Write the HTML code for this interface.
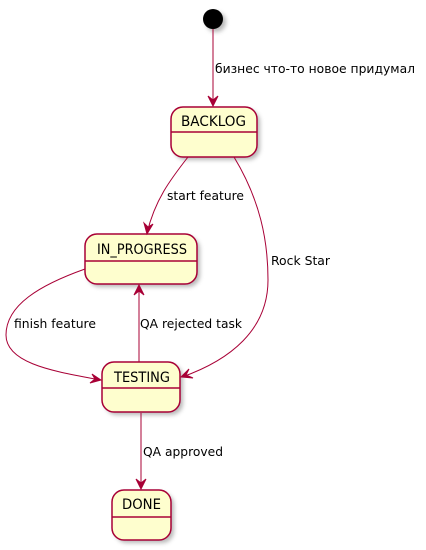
<!DOCTYPE html>
<html><head><meta charset="utf-8"><style>
html,body{margin:0;padding:0;background:#fff;}
svg{display:block;}
text{font-family:"DejaVu Sans","Liberation Sans",sans-serif;fill:#000;}
.lbl{font-size:12.5px;}
.st{font-size:14.5px;}
.box{fill:#FEFECE;stroke:#A80036;stroke-width:1.5;}
.sh{fill:#888;opacity:0.6;}
.e{fill:none;stroke:#A80036;stroke-width:1;}
.a{fill:#A80036;stroke:#A80036;stroke-width:1;}
</style></head><body>
<svg width="426" height="550" viewBox="0 0 426 550" xmlns="http://www.w3.org/2000/svg">
<defs><filter id="f" x="-20%" y="-20%" width="150%" height="150%"><feGaussianBlur stdDeviation="2"/></filter></defs>
<circle cx="216" cy="22" r="10" class="sh" filter="url(#f)"/>
<circle cx="213" cy="19" r="10" fill="#000"/>
<rect x="174" y="110" width="86" height="50" rx="12" class="sh" filter="url(#f)"/>
<rect x="88" y="237" width="112" height="50" rx="12" class="sh" filter="url(#f)"/>
<rect x="105" y="365" width="78" height="50" rx="12" class="sh" filter="url(#f)"/>
<rect x="115" y="493" width="59" height="50" rx="12" class="sh" filter="url(#f)"/>
<rect x="171" y="107" width="86" height="50" rx="12" class="box"/>
<line x1="171" y1="132" x2="257" y2="132" stroke="#A80036" stroke-width="1.5"/>
<text x="181" y="126" class="st" textLength="65" lengthAdjust="spacingAndGlyphs">BACKLOG</text>
<rect x="85" y="234" width="112" height="50" rx="12" class="box"/>
<line x1="85" y1="261" x2="197" y2="261" stroke="#A80036" stroke-width="1.5"/>
<text x="97" y="254" class="st" textLength="90" lengthAdjust="spacingAndGlyphs">IN_PROGRESS</text>
<rect x="102" y="362" width="78" height="50" rx="12" class="box"/>
<line x1="102" y1="388" x2="180" y2="388" stroke="#A80036" stroke-width="1.5"/>
<text x="114" y="382" class="st" textLength="56" lengthAdjust="spacingAndGlyphs">TESTING</text>
<rect x="112" y="490" width="59" height="50" rx="12" class="box"/>
<line x1="112" y1="517" x2="171" y2="517" stroke="#A80036" stroke-width="1.5"/>
<text x="122" y="509" class="st" textLength="39" lengthAdjust="spacingAndGlyphs">DONE</text>

<line x1="213" y1="29" x2="213" y2="106" class="e"/>
<polygon points="213,106 208,96 213,100 218,96" class="a"/>
<text x="215" y="73" class="lbl" textLength="200" lengthAdjust="spacingAndGlyphs">бизнес что-то новое придумал</text>

<path d="M188,157 C170,180 155,200 147,233" class="e"/>
<polygon points="147,234 144,223 148,227 153,224" class="a"/>
<text x="167" y="200" class="lbl" textLength="77" lengthAdjust="spacingAndGlyphs">start feature</text>

<path d="M234,157 C260,200 268,240 268,280 C268,330 230,360 182,377" class="e"/>
<polygon points="181,377 189,369 186,375 193,378" class="a"/>
<text x="271" y="265" class="lbl" textLength="59" lengthAdjust="spacingAndGlyphs">Rock Star</text>

<path d="M85,269 C40,285 6,305 6,335 C6,365 60,372 100,380" class="e"/>
<polygon points="101,380 90,383 95,379 92,374" class="a"/>
<text x="14" y="328" class="lbl" textLength="82" lengthAdjust="spacingAndGlyphs">finish feature</text>

<line x1="139" y1="362" x2="139" y2="286" class="e"/>
<polygon points="139,285 134,295 139,291 144,295" class="a"/>
<text x="140" y="328" class="lbl" textLength="102" lengthAdjust="spacingAndGlyphs">QA rejected task</text>

<line x1="141" y1="413" x2="141" y2="489" class="e"/>
<polygon points="141,489 136,479 141,483 146,479" class="a"/>
<text x="143" y="456" class="lbl" textLength="80" lengthAdjust="spacingAndGlyphs">QA approved</text>
</svg>
</body></html>
